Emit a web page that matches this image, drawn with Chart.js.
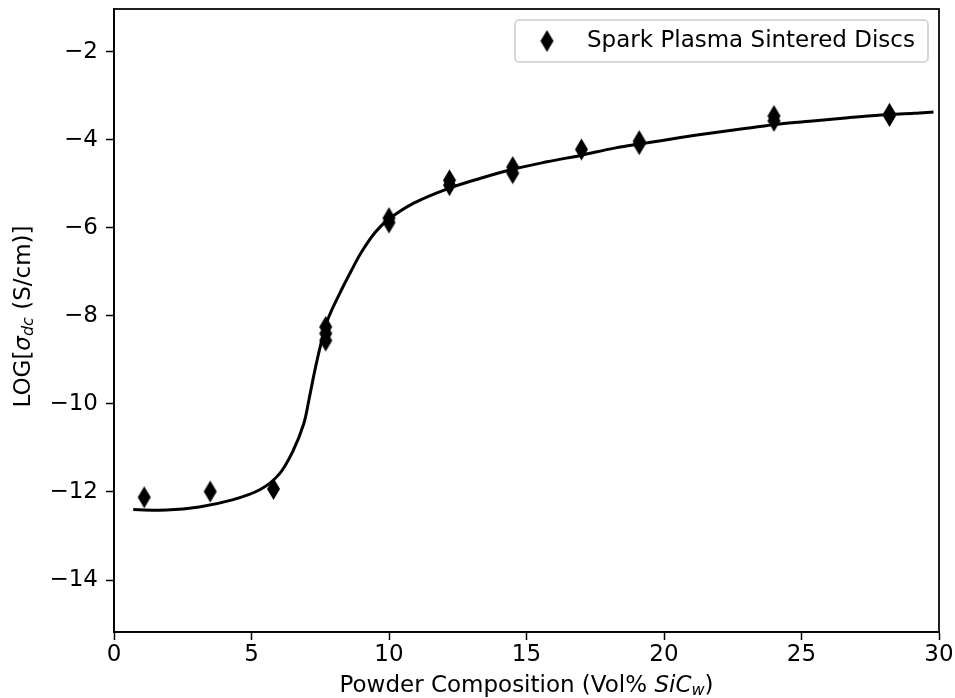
<!DOCTYPE html>
<html lang="en">
<head>
<meta charset="UTF-8">
<title>SPS discs conductivity</title>
<style>
  html, body { margin: 0; padding: 0; background: #ffffff; }
  #wrap { width: 955px; height: 698px; }
</style>
</head>
<body>
<div id="wrap"><canvas id="chart" width="955" height="698"></canvas></div>
<script src="https://cdn.jsdelivr.net/npm/chart.js"></script>
<script>
// measured discs (vol% SiC whiskers vs log conductivity)
const discX = [1.1, 3.5, 5.8, 7.7, 7.7, 7.7, 10.0, 10.0, 12.2, 12.2, 14.5, 14.5, 17.0, 19.1, 19.1, 24.0, 24.0, 28.2, 28.2];
const discY = [-12.12, -11.99, -11.93, -8.25, -8.4, -8.56, -5.78, -5.88, -4.92, -5.03, -4.62, -4.76, -4.22, -4.03, -4.1, -3.46, -3.57, -3.41, -3.46];

// fitted curve
const fitX = [0.7, 1.9, 3.1, 4.3, 5.3, 6.0, 6.5, 6.9, 7.1, 7.3, 7.5, 7.75, 8.2, 8.65, 9.0, 9.5, 10.0, 10.9, 12.1, 13.3, 14.5, 15.75, 17.0, 18.2, 19.4, 20.6, 21.8, 23.0, 24.2, 25.5, 26.7, 27.9, 29.1, 29.8];
const fitY = [-12.4, -12.41, -12.34, -12.18, -11.95, -11.6, -11.08, -10.45, -9.87, -9.25, -8.7, -8.12, -7.5, -6.95, -6.55, -6.1, -5.8, -5.44, -5.12, -4.88, -4.67, -4.5, -4.35, -4.19, -4.07, -3.95, -3.84, -3.74, -3.64, -3.57, -3.5, -3.44, -3.4, -3.37];

const xTicks = [0, 5, 10, 15, 20, 25, 30];
const yTicks = [-14, -12, -10, -8, -6, -4, -2];
const seriesLabel = "Spark Plasma Sintered Discs";

const FONT = "DejaVu Sans";
const FS = 23;

// thin diamond marker like matplotlib "d"
function makeDiamond(w, h) {
  const c = document.createElement("canvas");
  c.width = w + 2;
  c.height = h + 2;
  const g = c.getContext("2d");
  g.fillStyle = "#000";
  g.beginPath();
  g.moveTo(c.width / 2, 1);
  g.lineTo(c.width - 1, c.height / 2);
  g.lineTo(c.width / 2, c.height - 1);
  g.lineTo(1, c.height / 2);
  g.closePath();
  g.fill();
  return c;
}
const diamond = makeDiamond(13, 22);

// draws text runs one after another (for sub scripts / italics)
function drawRuns(ctx, runs, x, y) {
  let total = 0;
  runs.forEach(r => {
    ctx.font = r.font;
    total += ctx.measureText(r.text).width;
  });
  let cx = x - total / 2;
  runs.forEach(r => {
    ctx.font = r.font;
    ctx.fillText(r.text, cx, y + (r.dy || 0));
    cx += ctx.measureText(r.text).width;
  });
}

const extras = {
  id: "extras",
  afterDraw(chart) {
    const ctx = chart.ctx;
    const a = chart.chartArea;
    ctx.save();
    // frame
    ctx.strokeStyle = "#000";
    ctx.lineWidth = 1.75;
    ctx.strokeRect(a.left, a.top, a.right - a.left, a.bottom - a.top);

    ctx.fillStyle = "#000";
    ctx.textBaseline = "middle";
    const normal = FS + "px '" + FONT + "'";
    const ital = "italic " + FS + "px '" + FONT + "'";
    const sub = "italic " + Math.round(FS * 0.7) + "px '" + FONT + "'";

    // x title
    drawRuns(ctx, [
      { text: "Powder Composition (Vol% ", font: normal },
      { text: "SiC", font: ital },
      { text: "w", font: sub, dy: 5 },
      { text: ")", font: normal }
    ], (a.left + a.right) / 2, 686);

    // y title
    ctx.save();
    ctx.translate(24, (a.top + a.bottom) / 2 - 4);
    ctx.rotate(-Math.PI / 2);
    drawRuns(ctx, [
      { text: "LOG[", font: normal },
      { text: "σ", font: ital },
      { text: "dc", font: sub, dy: 5 },
      { text: " (S/cm)]", font: normal }
    ], 0, 0);
    ctx.restore();

    // legend
    const lx = 515, ly = 20, lw = 413, lh = 42;
    ctx.beginPath();
    ctx.roundRect(lx, ly, lw, lh, 4);
    ctx.fillStyle = "rgba(255,255,255,0.8)";
    ctx.fill();
    ctx.strokeStyle = "#cccccc";
    ctx.lineWidth = 1.5;
    ctx.stroke();
    ctx.drawImage(diamond, 547 - diamond.width / 2, 41 - diamond.height / 2);
    ctx.fillStyle = "#000";
    ctx.textAlign = "left";
    ctx.font = normal;
    ctx.fillText(seriesLabel, 587, 41);
    ctx.restore();
  }
};

const minus = v => String(v).replace("-", "\u2212");

const ctx = document.getElementById("chart").getContext("2d");
new Chart(ctx, {
  type: "scatter",
  data: {
    datasets: [
      {
        label: seriesLabel,
        data: discX.map((x, i) => ({ x: x, y: discY[i] })),
        pointStyle: diamond,
        pointRadius: 8,
        showLine: false
      },
      {
        label: "fit",
        data: fitX.map((x, i) => ({ x: x, y: fitY[i] })),
        showLine: true,
        borderColor: "#000",
        borderWidth: 3,
        pointRadius: 0,
        tension: 0.35,
        fill: false
      }
    ]
  },
  options: {
    responsive: false,
    animation: false,
    layout: { padding: { top: 9, right: 16, left: 0, bottom: 0 } },
    plugins: {
      legend: { display: false },
      tooltip: { enabled: false }
    },
    scales: {
      x: {
        type: "linear",
        min: 0,
        max: 30,
        afterBuildTicks: axis => { axis.ticks = xTicks.map(v => ({ value: v })); },
        afterFit: axis => { axis.height = 66; axis.paddingLeft = 0; axis.paddingRight = 0; },
        ticks: {
          color: "#000",
          font: { family: FONT, size: FS },
          padding: 1,
          maxRotation: 0,
          callback: v => minus(v)
        },
        grid: {
          drawOnChartArea: false,
          drawTicks: true,
          tickLength: 8,
          tickWidth: 1.5,
          tickColor: "#000"
        },
        border: { display: true, color: "#000", width: 1.75 }
      },
      y: {
        type: "linear",
        min: -15.18,
        max: -1.03,
        afterBuildTicks: axis => { axis.ticks = yTicks.map(v => ({ value: v })); },
        afterFit: axis => { axis.width = 114; axis.paddingTop = 0; axis.paddingBottom = 0; },
        ticks: {
          color: "#000",
          font: { family: FONT, size: FS },
          padding: 8,
          callback: v => minus(v)
        },
        grid: {
          drawOnChartArea: false,
          drawTicks: true,
          tickLength: 8,
          tickWidth: 1.5,
          tickColor: "#000"
        },
        border: { display: true, color: "#000", width: 1.75 }
      }
    }
  },
  plugins: [extras]
});
</script>
</body>
</html>
